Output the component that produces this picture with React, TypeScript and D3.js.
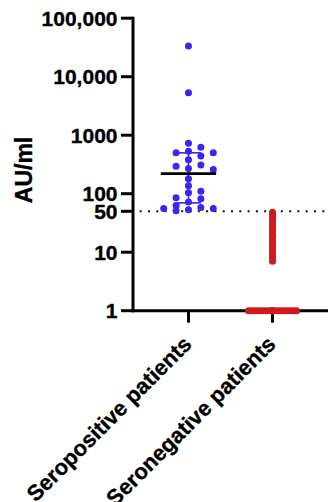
import * as d3 from "d3";

const categories = ["Seropositive patients", "Seronegative patients"];

// AU/ml per patient
const seropositive = [
  33500, 5300, 730, 620, 530, 500, 500, 440, 380, 310, 295, 270, 260, 180, 137,
  110, 104, 85, 82, 72, 63, 58, 56, 56, 53, 51,
];
const seronegative = [
  48, 44, 40, 36, 32, 29, 26, 23, 20, 18, 16, 14, 12.5, 11, 10, 9, 8, 7,
  1, 1, 1, 1, 1, 1, 1, 1, 1, 1, 1, 1, 1, 1, 1, 1, 1, 1, 1, 1,
];

const yTickValues = [1, 10, 50, 100, 1000, 10000, 100000];
const yTickLabels = ["1", "10", "50", "100", "1000", "10,000", "100,000"];
const cutoff = 50;

const colors = ["#3b25f0", "#cc1a20"];

const width = 328;
const height = 502;
const axisX = 133;
const axisY = 310.7;
const font = "'Liberation Sans', Arial, Helvetica, sans-serif";

// Prism style quantile, (n + 1) * p position
function quantile(values: number[], p: number) {
  const s = [...values].sort((a, b) => a - b);
  const pos = (s.length + 1) * p - 1;
  const lo = Math.max(0, Math.min(s.length - 1, Math.floor(pos)));
  const hi = Math.min(s.length - 1, lo + 1);
  return s[lo] + (pos - lo) * (s[hi] - s[lo]);
}

// simple column beeswarm: slots at multiples of step, collide when closer than gap in y
function swarm(values: number[], y: (v: number) => number, step: number, gap: number, maxSlot: number) {
  const order = d3.range(values.length).sort((a, b) => values[b] - values[a]);
  const slots = [0];
  for (let k = 1; k <= maxSlot; k++) slots.push(k, -k);
  const placed: { slot: number; y: number }[] = [];
  const out: { dx: number; y: number }[] = new Array(values.length);
  for (const i of order) {
    const yi = y(values[i]);
    let best = 0;
    let bestD = -1;
    for (const s of slots) {
      const d = d3.min(placed.filter((p) => p.slot === s), (p) => Math.abs(p.y - yi)) ?? Infinity;
      if (d >= gap) { best = s; break; }
      if (d > bestD) { bestD = d; best = s; }
    }
    placed.push({ slot: best, y: yi });
    out[i] = { dx: best * step, y: yi };
  }
  return out;
}

export default function App() {
  const y = d3.scaleLog([1, 100000], [axisY, 18.2]);
  const x = d3.scalePoint(categories, [axisX, width]).padding(0.66);

  const groups = [seropositive, seronegative];
  const layout = [
    { step: 12.4, gap: 6.8, maxSlot: 2, summary: true },
    { step: 3, gap: 2.2, maxSlot: 8, summary: false },
  ];

  const textProps = {
    fontFamily: font,
    fontWeight: "bold",
    fill: "#000",
    stroke: "#000",
    strokeWidth: 0.35,
  };

  return (
    <svg width={width} height={height} style={{ position: "absolute", left: 0, top: 0, background: "#fff" }}>
      {/* cutoff line */}
      <line
        x1={139.7}
        x2={width}
        y1={y(cutoff)}
        y2={y(cutoff)}
        stroke="#111"
        strokeWidth={2}
        strokeDasharray="2 6.3"
      />

      {/* Y axis */}
      <line x1={axisX} x2={axisX} y1={y(100000) - 1.5} y2={axisY + 1.5} stroke="#000" strokeWidth={3} />
      {yTickValues.map((t, i) => (
        <g key={t}>
          <line x1={axisX - 12} x2={axisX} y1={y(t)} y2={y(t)} stroke="#000" strokeWidth={3} />
          <text x={117.5} y={y(t)} dy="0.36em" textAnchor="end" fontSize={21} {...textProps}>
            {yTickLabels[i]}
          </text>
        </g>
      ))}
      <text transform={`translate(31.5,170) rotate(-90)`} textAnchor="middle" fontSize={23} {...textProps}>
        AU/ml
      </text>

      {/* X axis */}
      <line x1={axisX - 1.5} x2={width} y1={axisY} y2={axisY} stroke="#000" strokeWidth={3} />
      {categories.map((c) => (
        <g key={c}>
          <line x1={x(c)} x2={x(c)} y1={axisY} y2={axisY + 12} stroke="#000" strokeWidth={3} />
          <text
            transform={`translate(${(x(c) ?? 0) + 4.5},345.5) rotate(-45)`}
            textAnchor="end"
            fontSize={22}
            {...textProps}
          >
            {c}
          </text>
        </g>
      ))}

      {/* points and median with interquartile range */}
      {groups.map((vals, gi) => {
        const cx = x(categories[gi]) ?? 0;
        const L = layout[gi];
        const pts = swarm(vals, y, L.step, L.gap, L.maxSlot);
        const med = d3.median(vals) ?? 1;
        const q1 = quantile(vals, 0.25);
        const q3 = quantile(vals, 0.75);
        return (
          <g key={gi}>
            {L.summary && (
              <g>
                <line x1={cx} x2={cx} y1={y(q3)} y2={y(q1)} stroke={colors[gi]} strokeWidth={1.6} />
                <line x1={cx - 12.5} x2={cx + 12.5} y1={y(q3)} y2={y(q3)} stroke={colors[gi]} strokeWidth={1.6} />
                <line x1={cx - 12.5} x2={cx + 12.5} y1={y(q1)} y2={y(q1)} stroke={colors[gi]} strokeWidth={1.6} />
              </g>
            )}
            {pts.map((p, i) => (
              <circle key={i} cx={cx + p.dx} cy={p.y} r={3.5} fill={colors[gi]} />
            ))}
            {L.summary && (
              <line x1={cx - 27.7} x2={cx + 27.7} y1={y(med)} y2={y(med)} stroke="#000" strokeWidth={2.6} />
            )}
          </g>
        );
      })}
    </svg>
  );
}
